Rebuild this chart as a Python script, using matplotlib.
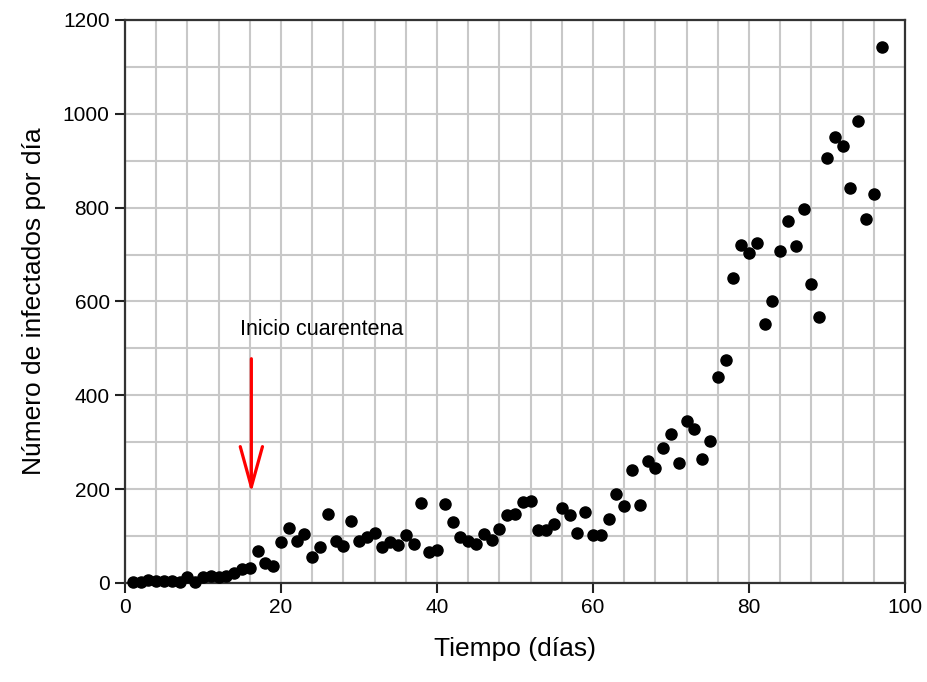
import numpy as np
import matplotlib
matplotlib.use("Agg")
import matplotlib.pyplot as plt

plt.rcParams["font.family"] = ["Liberation Sans", "DejaVu Sans"]

# daily new infections, day 1..97
dias = np.arange(1, 98)
infectados = [
    2, 3, 6, 4, 5, 4, 3, 12, 3, 12,
    14, 13, 15, 22, 30, 31, 68, 43, 37, 87,
    118, 90, 104, 56, 76, 148, 90, 79, 133, 90,
    99, 106, 76, 88, 81, 103, 83, 170, 67, 71,
    168, 130, 97, 90, 83, 105, 91, 114, 144, 148,
    173, 174, 113, 113, 125, 160, 144, 106, 151, 102,
    102, 136, 189, 164, 241, 166, 259, 244, 287, 317,
    256, 346, 328, 264, 303, 440, 475, 649, 720, 704,
    725, 553, 602, 708, 771, 718, 797, 637, 566, 905,
    951, 931, 841, 985, 776, 829, 1143,
]

dia_cuarentena = 16.2
texto_cuarentena = "Inicio cuarentena"

fig = plt.figure(figsize=(9.28, 6.82), dpi=100)
ax = fig.add_axes([0.1347, 0.1452, 0.8405, 0.8255])

ax.scatter(dias, infectados, s=64, color="black", zorder=3, clip_on=False)

ax.set_xlim(0, 100)
ax.set_ylim(0, 1200)
ax.set_xticks(np.arange(0, 101, 20))
ax.set_xticks(np.arange(0, 101, 4), minor=True)
ax.set_yticks(np.arange(0, 1201, 200))
ax.set_yticks(np.arange(0, 1201, 100), minor=True)
ax.set_axisbelow(True)
ax.grid(True, which="both", color="#c8c8c8", linewidth=1.5)

ax.tick_params(which="major", direction="out", length=7, width=1.5,
               color="#222", labelsize=15, labelcolor="black", pad=4)
ax.tick_params(which="minor", length=0)
for sp in ax.spines.values():
    sp.set_color("#333")
    sp.set_linewidth(1.6)

ax.set_xlabel("Tiempo (días)", fontsize=19, labelpad=14)
ax.set_ylabel("Número de infectados por día", fontsize=19, labelpad=12)

ax.annotate("", xy=(dia_cuarentena, 192), xytext=(dia_cuarentena, 478),
            arrowprops=dict(arrowstyle="->,head_length=2.9,head_width=0.8",
                            color="red", lw=2.3, mutation_scale=10,
                            shrinkA=0, shrinkB=0))
ax.text(14.8, 540, texto_cuarentena, fontsize=15.5, ha="left", va="center")

fig.savefig("out.png", dpi=100)
